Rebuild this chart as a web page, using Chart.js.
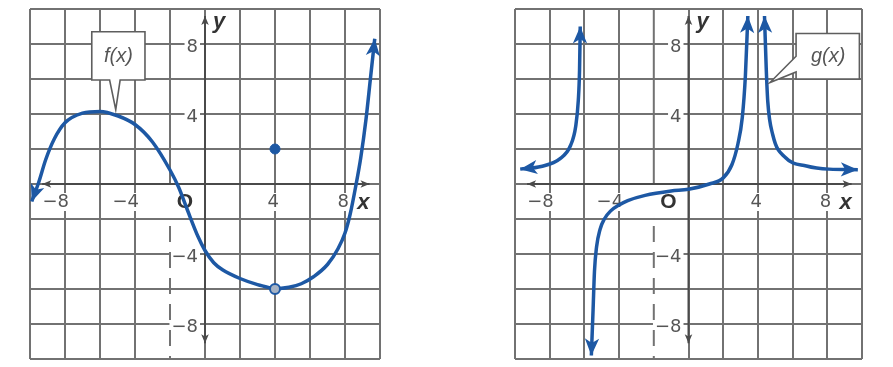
<!DOCTYPE html>
<html>
<head>
<title>f(x) and g(x)</title>
<script src="https://cdn.jsdelivr.net/npm/chart.js"></script>
<style>
    body {
        margin: 0;
        background: #fff;
        width: 893px;
        height: 367px;
        overflow: hidden;
        position: relative;
    }
    .panel {
        position: absolute;
        top: 0;
        height: 367px;
    }
    #leftPanel { left: 0; width: 446px; }
    #rightPanel { left: 446px; width: 447px; }
</style>
</head>
<body>
<div class="panel" id="leftPanel"><canvas id="fChart"></canvas></div>
<div class="panel" id="rightPanel"><canvas id="gChart"></canvas></div>

<script>
// window and grid shared by both graphs
var axisMin = -10, axisMax = 10, gridStep = 2;
var xTickValues = [-8, -4, 4, 8];
var xTickLabels = ['\u22128', '\u22124', '4', '8'];
var yTickValues = [8, 4, -4, -8];
var yTickLabels = ['8', '4', '\u22124', '\u22128'];

// f(x), left of the hole at x = 4
var fLeftX = [-9.9, -9.5, -9.1, -8.6, -8, -7, -6, -5, -4, -3, -2, -1.5, -1, -0.4, 0, 0.5, 1, 2, 3, 4];
var fLeftY = [-1.0, 0.1, 1.4, 2.6, 3.5, 4.05, 4.15, 3.9, 3.4, 2.4, 0.8, -0.2, -1.5, -3.0, -3.8, -4.5, -4.9, -5.4, -5.75, -6];
// f(x), right of the hole
var fRightX = [4, 4.8, 5.5, 6.2, 7, 7.6, 8, 8.3, 8.6, 8.9, 9.2, 9.45, 9.7];
var fRightY = [-6, -5.9, -5.7, -5.3, -4.6, -3.7, -2.8, -1.7, -0.2, 1.5, 3.7, 6.0, 8.3];
// f(4) is defined apart from the curve
var fPointX = [4], fPointY = [2];
var fHoleX = [4], fHoleY = [-6];

// g(x), three branches
var g1X = [-9.7, -8.5, -7.4, -6.8, -6.5, -6.35, -6.28, -6.24];
var g1Y = [0.85, 1.0, 1.45, 2.2, 3.3, 4.8, 6.5, 9.0];
var g2X = [-5.6, -5.5, -5.42, -5.3, -5.1, -4.85, -4.5, -4, -3.5, -2.5, -1, 0, 1.2, 2, 2.5, 2.85, 3.1, 3.28, 3.42];
var g2Y = [-9.8, -7.2, -5.0, -3.6, -2.6, -2.0, -1.55, -1.2, -0.95, -0.65, -0.4, -0.3, 0, 0.35, 1.1, 2.3, 3.8, 6.2, 9.6];
var g3X = [4.38, 4.48, 4.57, 4.86, 5.6, 6.8, 8.1, 9.76];
var g3Y = [9.6, 6.6, 4.7, 2.8, 1.5, 1.03, 0.85, 0.82];

var curveBlue = '#1d58a4';
var gridGray = '#727272';
var axisGray = '#4a4a4a';
var tickFont = '18px "DejaVu Sans", "Liberation Sans", sans-serif';
var brokenRuleX = -2;

function pts(xs, ys) {
    return xs.map(function (x, i) { return { x: x, y: ys[i] }; });
}

function curve(xs, ys, arrowStart, arrowEnd) {
    return {
        data: pts(xs, ys),
        showLine: true,
        borderColor: curveBlue,
        borderWidth: 3.5,
        pointRadius: 0,
        cubicInterpolationMode: 'monotone',
        arrows: { start: arrowStart, end: arrowEnd, size: 17 },
        order: 1
    };
}

function axisLines() {
    return [
        { data: [{ x: -9.3, y: 0 }, { x: 9.4, y: 0 }], showLine: true, borderColor: axisGray,
          borderWidth: 2, pointRadius: 0, arrows: { start: true, end: true, size: 9 }, order: 2 },
        { data: [{ x: 0, y: -9.1 }, { x: 0, y: 9.6 }], showLine: true, borderColor: axisGray,
          borderWidth: 2, pointRadius: 0, arrows: { start: true, end: true, size: 9 }, order: 2 },
        // the x = -2 rule: solid above the axis, dashed below it
        { data: [{ x: brokenRuleX, y: 10 }, { x: brokenRuleX, y: 0 }], showLine: true, borderColor: gridGray,
          borderWidth: 2, pointRadius: 0, order: 3 },
        { data: [{ x: brokenRuleX, y: -2.4 }, { x: brokenRuleX, y: -10 }], showLine: true, borderColor: gridGray,
          borderWidth: 2, borderDash: [16, 10], pointRadius: 0, order: 3 }
    ];
}

// arrowheads on the ends of a line, pointing along the curve
var arrowPlugin = {
    id: 'arrowHeads',
    afterDatasetDraw: function (chart, args) {
        var ds = chart.data.datasets[args.index];
        if (!ds.arrows) return;
        var els = args.meta.data;
        var n = els.length - 1;
        var ends = [];
        if (ds.arrows.start) ends.push([els[0], els[0].cp2x, els[0].cp2y, els[1]]);
        if (ds.arrows.end) ends.push([els[n], els[n].cp1x, els[n].cp1y, els[n - 1]]);
        var ctx = chart.ctx;
        ends.forEach(function (e) {
            var tip = e[0], bx = e[1], by = e[2];
            if (bx === undefined || Math.hypot(tip.x - bx, tip.y - by) < 1) {
                bx = e[3].x; by = e[3].y;
            }
            var a = Math.atan2(tip.y - by, tip.x - bx);
            var L = ds.arrows.size, W = L * 0.42;
            ctx.save();
            ctx.translate(tip.x, tip.y);
            ctx.rotate(a);
            ctx.beginPath();
            ctx.moveTo(0, 0);
            ctx.lineTo(-L, -W);
            ctx.lineTo(-L * 0.74, 0);
            ctx.lineTo(-L, W);
            ctx.closePath();
            ctx.fillStyle = ds.borderColor;
            ctx.fill();
            ctx.restore();
        });
    }
};

function boxedText(ctx, text, x, y, align) {
    var w = ctx.measureText(text).width;
    var left = align === 'right' ? x - w : x - w / 2;
    ctx.fillStyle = '#fff';
    ctx.fillRect(left - 2, y - 9, w + 4, 18);
    ctx.fillStyle = '#555';
    ctx.textAlign = align;
    ctx.fillText(text, x, y);
}

// tick numbers, O, x and y, drawn under the curves
var labelPlugin = {
    id: 'graphLabels',
    beforeDatasetsDraw: function (chart) {
        var ctx = chart.ctx, xs = chart.scales.x, ys = chart.scales.y;
        var x0 = xs.getPixelForValue(0), y0 = ys.getPixelForValue(0);
        ctx.save();
        ctx.font = tickFont;
        ctx.textBaseline = 'middle';
        xTickValues.forEach(function (v, i) {
            boxedText(ctx, xTickLabels[i], xs.getPixelForValue(v) + 4, y0 + 18, 'right');
        });
        yTickValues.forEach(function (v, i) {
            boxedText(ctx, yTickLabels[i], x0 - 7, ys.getPixelForValue(v) + 3, 'right');
        });
        ctx.fillStyle = '#333';
        ctx.textAlign = 'center';
        ctx.font = 'bold 21px "Liberation Sans", Arial, sans-serif';
        ctx.fillText('O', x0 - 20, y0 + 18);
        ctx.font = 'italic bold 22px "Liberation Sans", Arial, sans-serif';
        ctx.fillText('x', xs.getPixelForValue(9.05), y0 + 19);
        ctx.fillText('y', x0 + 14, ys.getPixelForValue(9.25));
        ctx.restore();
    }
};

// name tag with a pointer to its curve
var calloutPlugin = {
    id: 'callout',
    afterDatasetsDraw: function (chart, args, opts) {
        if (!opts || !opts.text) return;
        var ctx = chart.ctx, xs = chart.scales.x, ys = chart.scales.y;
        ctx.save();
        ctx.beginPath();
        opts.outline.forEach(function (p, i) {
            var px = xs.getPixelForValue(p[0]), py = ys.getPixelForValue(p[1]);
            if (i === 0) ctx.moveTo(px, py); else ctx.lineTo(px, py);
        });
        ctx.closePath();
        ctx.fillStyle = '#fff';
        ctx.fill();
        ctx.strokeStyle = '#5e5e5e';
        ctx.lineWidth = 1.6;
        ctx.stroke();
        ctx.font = 'italic 20px "Liberation Sans", Arial, sans-serif';
        ctx.fillStyle = '#555';
        ctx.textAlign = 'center';
        ctx.textBaseline = 'middle';
        ctx.fillText(opts.text, xs.getPixelForValue(opts.at[0]), ys.getPixelForValue(opts.at[1]));
        ctx.restore();
    }
};

function makeGraph(canvasId, pad, datasets, callout) {
    var axis = {
        type: 'linear',
        min: axisMin,
        max: axisMax,
        ticks: { display: false, stepSize: gridStep },
        grid: { color: gridGray, lineWidth: 2, drawTicks: false },
        border: { display: false }
    };
    // the x = -2 rule is drawn as datasets instead
    var xGrid = Object.assign({}, axis.grid, {
        color: function (c) {
            return c.tick && c.tick.value === brokenRuleX ? 'rgba(0,0,0,0)' : gridGray;
        }
    });
    return new Chart(document.getElementById(canvasId), {
        type: 'scatter',
        data: { datasets: datasets },
        options: {
            responsive: true,
            maintainAspectRatio: false,
            animation: false,
            clip: false,
            layout: { padding: pad },
            plugins: {
                legend: { display: false },
                tooltip: { enabled: false },
                callout: callout
            },
            scales: {
                x: Object.assign({}, axis, { grid: xGrid, afterFit: function (s) { s.height = 0; } }),
                y: Object.assign({}, axis, { afterFit: function (s) { s.width = 0; } })
            }
        },
        plugins: [labelPlugin, arrowPlugin, calloutPlugin]
    });
}

var fChart = makeGraph('fChart', { left: 30, right: 66, top: 9, bottom: 8 },
    [
        { data: pts(fPointX, fPointY), pointRadius: 5, pointBackgroundColor: curveBlue,
          pointBorderColor: curveBlue, order: 0 },
        { data: pts(fHoleX, fHoleY), pointRadius: 5, pointBorderWidth: 2,
          pointBackgroundColor: '#a7b3c4', pointBorderColor: curveBlue, order: 0 },
        curve(fLeftX, fLeftY, true, false),
        curve(fRightX, fRightY, false, true)
    ].concat(axisLines()),
    {
        text: 'f(x)',
        at: [-4.95, 7.3],
        outline: [[-6.47, 8.7], [-3.43, 8.7], [-3.43, 5.94], [-4.85, 5.94], [-5.1, 4.25], [-5.45, 5.94], [-6.47, 5.94]]
    });

var gChart = makeGraph('gChart', { left: 69, right: 31, top: 9, bottom: 8 },
    [
        curve(g1X, g1Y, true, true),
        curve(g2X, g2Y, true, true),
        curve(g3X, g3Y, true, true)
    ].concat(axisLines()),
    {
        text: 'g(x)',
        at: [8.05, 7.3],
        outline: [[6.2, 8.6], [9.85, 8.6], [9.85, 6.0], [6.2, 6.0], [6.2, 6.4], [4.7, 5.8], [6.2, 7.3]]
    });
</script>
</body>
</html>
